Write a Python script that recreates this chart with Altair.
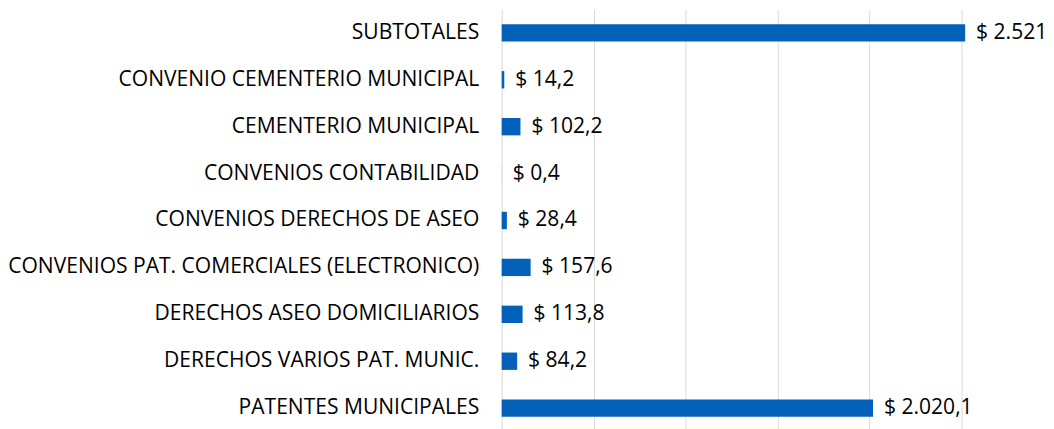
import altair as alt
import pandas as pd

categories = [
    "SUBTOTALES",
    "CONVENIO CEMENTERIO MUNICIPAL",
    "CEMENTERIO MUNICIPAL",
    "CONVENIOS CONTABILIDAD",
    "CONVENIOS DERECHOS DE ASEO",
    "CONVENIOS PAT. COMERCIALES (ELECTRONICO)",
    "DERECHOS ASEO DOMICILIARIOS",
    "DERECHOS VARIOS PAT. MUNIC.",
    "PATENTES MUNICIPALES",
]
values = [2521, 14.2, 102.2, 0.4, 28.4, 157.6, 113.8, 84.2, 2020.1]
value_labels = ["$ 2.521", "$ 14,2", "$ 102,2", "$ 0,4", "$ 28,4",
                "$ 157,6", "$ 113,8", "$ 84,2", "$ 2.020,1"]
grid_values = [0, 500, 1000, 1500, 2000, 2500]

df = pd.DataFrame({"cat": categories, "val": values, "lab": value_labels})

FONT = "Open Sans"
FS = 21.2
x = alt.X("val:Q", scale=alt.Scale(domain=[0, 2950], nice=False, zero=True),
          axis=alt.Axis(values=grid_values, labels=False, ticks=False, domain=False,
                        grid=True, gridColor="#D9D9D9", gridWidth=1, title=None))
y = alt.Y("cat:N", sort=categories,
          scale=alt.Scale(paddingInner=0.63, paddingOuter=0.315),
          axis=alt.Axis(title=None, ticks=False, domain=False, labelPadding=23,
                        labelFont=FONT, labelFontSize=FS, labelColor="#000000",
                        labelLimit=600))

bars = alt.Chart(df).mark_bar(color="#0461BA").encode(x=x, y=y)
text = alt.Chart(df).mark_text(align="left", baseline="middle", dx=11, font=FONT,
                               fontSize=FS, color="#000000").encode(
    x="val:Q", y=alt.Y("cat:N", sort=categories), text="lab:N")

chart = (bars + text).properties(
    width=546, height=425,
    autosize=alt.AutoSizeParams(type="none"),
    padding={"left": 497, "top": 0, "right": 2, "bottom": 0},
).configure_view(stroke=None)

chart.save("out.html", embed_options={"renderer": "svg", "actions": False})
